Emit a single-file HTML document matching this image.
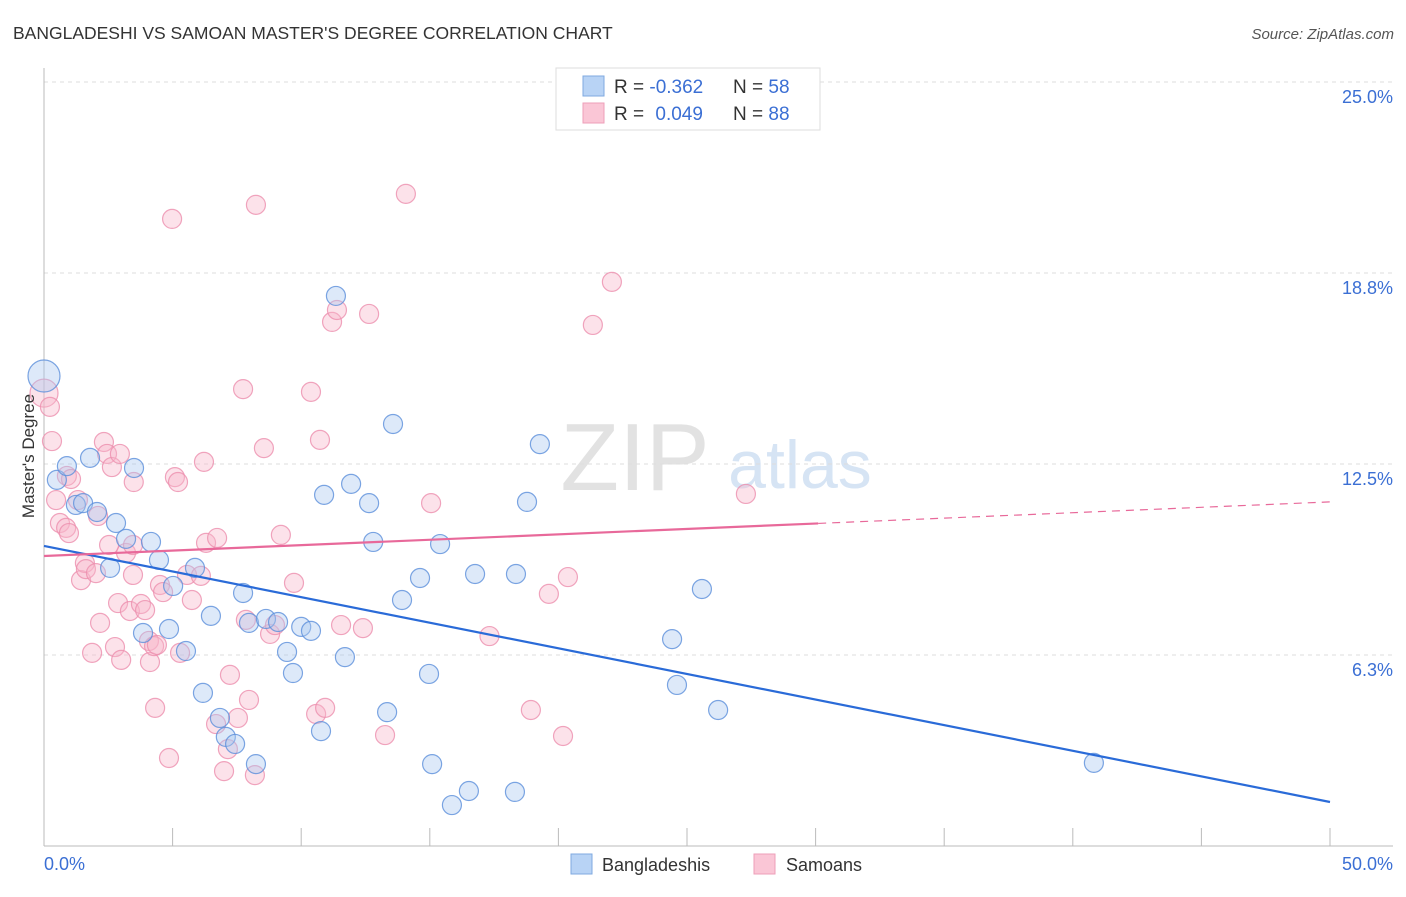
<!DOCTYPE html>
<html><head><meta charset="utf-8"><style>
body{margin:0;background:#fff;font-family:"Liberation Sans",sans-serif;}
svg text{font-family:"Liberation Sans",sans-serif;}
</style></head><body>
<svg id="chart" width="1406" height="892" xmlns="http://www.w3.org/2000/svg">
<text x="13" y="39" font-size="17.5" fill="#333">BANGLADESHI VS SAMOAN MASTER'S DEGREE CORRELATION CHART</text>
<text x="1394" y="39" font-size="15" fill="#555" text-anchor="end" font-style="italic">Source: ZipAtlas.com</text>
<g>
<text x="635" y="490" font-size="96" fill="#e2e2e2" font-family="Liberation Serif" text-anchor="middle">ZIP</text>
<text x="800" y="488" font-size="68" fill="#d6e4f4" text-anchor="middle">atlas</text>
</g>
<g id="grid"></g>
<g id="axes"></g>
<g id="points"></g>
<g id="trends"></g>
<text transform="translate(34,456) rotate(-90)" font-size="17" fill="#333" text-anchor="middle">Master's Degree</text>
<g>
<rect x="556" y="68" width="264" height="62" fill="#fff" stroke="#ddd"/>
<rect x="583" y="76" width="21" height="20" fill="#b8d3f5" stroke="#7fa9e0"/>
<rect x="583" y="103" width="21" height="20" fill="#fac6d6" stroke="#ee9fb8"/>
<text x="614" y="93" font-size="19" fill="#333">R = <tspan fill="#3b6fd4">-0.362</tspan></text>
<text x="733" y="93" font-size="19" fill="#333">N = <tspan fill="#3b6fd4">58</tspan></text>
<text x="614" y="120" font-size="19" fill="#333">R = <tspan fill="#3b6fd4" dx="6">0.049</tspan></text>
<text x="733" y="120" font-size="19" fill="#333">N = <tspan fill="#3b6fd4">88</tspan></text>
</g>
<g>
<rect x="571" y="854" width="21" height="20" fill="#b8d3f5" stroke="#7fa9e0"/>
<text x="602" y="871" font-size="18" fill="#333">Bangladeshis</text>
<rect x="754" y="854" width="21" height="20" fill="#fac6d6" stroke="#ee9fb8"/>
<text x="786" y="871" font-size="18" fill="#333">Samoans</text>
</g>
</svg>
<script>
const yTicks=[25,18.75,12.5,6.25];
const yTickLabels=["25.0%","18.8%","12.5%","6.3%"];
const xTicks=[0,5,10,15,20,25,30,35,40,45,50];
const xEndLabels=["0.0%","50.0%"];
const blueX=[0,0.5,0.89,1.79,1.24,1.52,2.06,2.8,3.5,3.19,4.16,2.57,4.47,5.87,5.02,3.85,4.86,5.52,6.49,7.74,7.97,8.63,9.1,10.0,10.38,9.45,9.68,6.18,6.84,7.07,7.43,8.24,10.89,11.94,11.35,12.64,12.8,11.7,10.77,13.57,13.92,14.62,15.4,14.97,13.34,15.09,15.86,16.52,16.76,18.31,18.35,18.78,19.28,24.42,24.61,25.58,26.21,40.82];
const blueY=[15.38,11.98,12.43,12.7,11.16,11.22,10.93,10.57,12.37,10.05,9.95,9.1,9.36,9.1,8.51,6.97,7.1,6.38,7.53,8.28,7.3,7.43,7.33,7.17,7.04,6.35,5.66,5.01,4.19,3.57,3.34,2.68,11.49,11.85,18.0,11.22,9.95,6.18,3.76,13.81,8.05,8.77,9.88,5.63,4.38,2.68,1.34,1.8,8.9,1.77,8.9,11.26,13.15,6.77,5.27,8.41,4.45,2.72];
const pinkX=[0,0.23,0.31,0.47,0.89,1.05,0.62,0.86,0.97,1.32,1.44,1.59,1.63,2.02,2.1,2.33,2.45,2.64,2.95,3.49,3.19,2.53,3.46,3.46,2.88,3.34,3.77,3.93,2.18,2.76,1.87,3.0,4.12,4.08,4.28,4.39,4.51,4.63,5.29,5.09,5.21,4.98,4.32,4.86,5.56,5.75,6.1,6.22,6.3,6.73,6.69,7.15,7.0,7.23,7.54,7.74,7.85,7.97,8.2,8.24,8.55,8.79,8.98,9.21,9.72,10.38,10.73,10.58,10.93,11.2,11.39,12.64,11.55,12.4,13.26,14.07,15.05,17.32,18.93,19.63,20.18,20.37,21.34,22.08,27.29];
const pinkY=[14.82,14.37,13.25,11.32,12.11,12.01,10.57,10.41,10.24,11.32,8.7,9.26,9.06,8.93,10.8,13.22,12.83,12.4,12.83,11.91,9.59,9.85,9.85,8.87,7.95,7.69,7.92,7.72,7.3,6.51,6.32,6.09,6.02,6.71,6.54,6.58,8.54,8.31,6.32,12.07,11.91,20.52,4.52,2.88,8.87,8.05,8.84,12.57,9.92,10.08,3.99,3.17,2.45,5.6,4.19,14.95,7.4,4.78,2.32,20.98,13.02,6.94,7.23,10.18,8.61,14.86,13.29,4.32,4.52,17.15,17.54,17.41,7.23,7.13,3.63,21.34,11.22,6.87,4.45,8.25,3.6,8.8,17.05,18.46,11.52];
const blueSizes=[16];
const pinkSizes=[14];
const blueTrend=[9.82,1.44];   // value at x=0, value at x=50
const pinkTrend=[9.49,11.26];
const pinkSolidEnd=30.1;
const X=v=>44+v*25.72, Y=v=>846-v*30.56;
const NS="http://www.w3.org/2000/svg";
function mk(tag,attrs,parent){const e=document.createElementNS(NS,tag);for(const k in attrs)e.setAttribute(k,attrs[k]);parent.appendChild(e);return e;}
const grid=document.getElementById('grid'),axes=document.getElementById('axes'),pts=document.getElementById('points'),tr=document.getElementById('trends');
yTicks.forEach((t,i)=>{
 const l=mk('line',{x1:44,x2:1393,y1:Y(t),y2:Y(t),stroke:'#ddd','stroke-dasharray':'4,4'},grid);
 
 
 const tx=mk('text',{x:1393,y:Y(t)+21,'font-size':18,fill:'#3b6fd4','text-anchor':'end'},grid);
 tx.textContent=yTickLabels[i];
 
 
});
const ya=mk('line',{x1:44,x2:44,y1:68,y2:846,stroke:'#bbb'},axes);


const xa=mk('line',{x1:44,x2:1393,y1:846,y2:846,stroke:'#bbb'},axes);


xTicks.forEach(t=>{
 const l=mk('line',{x1:X(t),x2:X(t),y1:828,y2:846,stroke:'#bbb'},axes);
 
 
});
[[0,'start'],[50,'end']].forEach((p,i)=>{
 const tx=mk('text',{x:i?1393:44,y:870,'font-size':18,fill:'#3b6fd4','text-anchor':p[1]},axes);
 tx.textContent=xEndLabels[i];
 
 
});
function dots(xs,ys,fill,stroke,big,name){
 xs.forEach((x,i)=>{
  const c=mk('circle',{cx:X(x),cy:Y(ys[i]),r:i===0?big:9.5,fill:fill,'fill-opacity':0.4,stroke:stroke,'stroke-opacity':0.8,'stroke-width':1.2},pts);
  
  
 });
}
dots(pinkX,pinkY,'#f7b6cb','#ec8fae',pinkSizes[0],'samoan-point');
dots(blueX,blueY,'#a9c8f0','#5b8fdb',blueSizes[0],'bangladeshi-point');
const bt=mk('line',{x1:X(0),y1:Y(blueTrend[0]),x2:X(50),y2:Y(blueTrend[1]),stroke:'#2a6bd8','stroke-width':2.2},tr);


const pAt=x=>pinkTrend[0]+(pinkTrend[1]-pinkTrend[0])*x/50;
const pt=mk('line',{x1:X(0),y1:Y(pAt(0)),x2:X(pinkSolidEnd),y2:Y(pAt(pinkSolidEnd)),stroke:'#e8699a','stroke-width':2.2},tr);


const pd=mk('line',{x1:X(pinkSolidEnd),y1:Y(pAt(pinkSolidEnd)),x2:X(50),y2:Y(pAt(50)),stroke:'#e8699a','stroke-width':1.2,'stroke-dasharray':'8,6'},tr);


</script>
</body></html>
